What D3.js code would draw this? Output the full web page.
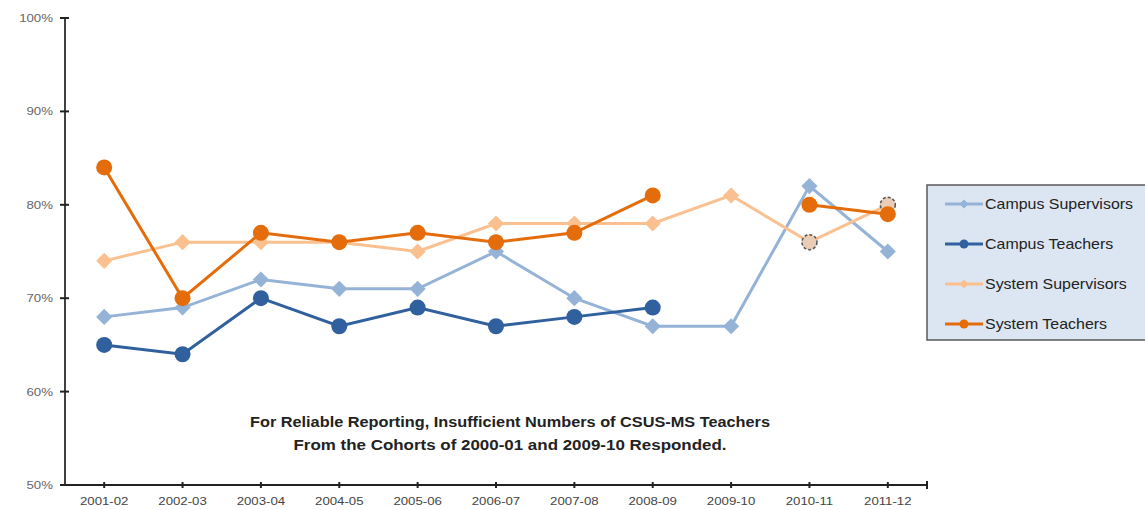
<!DOCTYPE html>
<html>
<head>
<meta charset="utf-8">
<script src="https://cdn.jsdelivr.net/npm/d3@7"></script>
<style>
  body { margin: 0; background: #fff; }
  text { font-family: "Liberation Sans", Arial, sans-serif; }
</style>
</head>
<body>
<div id="chart"></div>
<script>
const years = ["2001-02", "2002-03", "2003-04", "2004-05", "2005-06", "2006-07",
               "2007-08", "2008-09", "2009-10", "2010-11", "2011-12"];

const campusSupervisors = [68, 69, 72, 71, 71, 75, 70, 67, 67, 82, 75];
const campusTeachers    = [65, 64, 70, 67, 69, 67, 68, 69, null, null, null];
const systemSupervisors = [74, 76, 76, 76, 75, 78, 78, 78, 81, 76, 80];
const systemTeachers    = [84, 70, 77, 76, 77, 76, 77, 81, null, 80, 79];
// unlinked campus teacher markers drawn with dashed outline
const campusTeachersFlagged = [null, null, null, null, null, null, null, null, null, 76, 80];

const yTicks = [50, 60, 70, 80, 90, 100];
const seriesNames = ["Campus Supervisors", "Campus Teachers", "System Supervisors", "System Teachers"];

const noteLines = [
  "For Reliable Reporting, Insufficient Numbers of CSUS-MS Teachers",
  "From the Cohorts of 2000-01  and 2009-10  Responded."
];

const series = [
  { name: seriesNames[0], values: campusSupervisors, color: "#95b3d7", shape: "diamond" },
  { name: seriesNames[1], values: campusTeachers,    color: "#30609e", shape: "circle" },
  { name: seriesNames[2], values: systemSupervisors, color: "#fac090", shape: "diamond" },
  { name: seriesNames[3], values: systemTeachers,    color: "#e46c0a", shape: "circle" }
];

const width = 1145, height = 510;
const plotLeft = 65, plotRight = 927, plotTop = 18, plotBottom = 485;

const svg = d3.select("#chart").append("svg")
  .attr("width", width)
  .attr("height", height);

const x = d3.scalePoint()
  .domain(years)
  .range([plotLeft, plotRight])
  .padding(0.5);

const y = d3.scaleLinear()
  .domain([50, 100])
  .range([plotBottom, plotTop]);

// stretch text horizontally like the source image
function stretch(sel, k) {
  sel.each(function() {
    const w = this.getComputedTextLength();
    d3.select(this).attr("textLength", w * k).attr("lengthAdjust", "spacingAndGlyphs");
  });
}

// y axis
const yAxis = svg.append("g");
yAxis.append("line")
  .attr("x1", plotLeft).attr("x2", plotLeft)
  .attr("y1", plotTop).attr("y2", plotBottom)
  .attr("stroke", "#404040").attr("stroke-width", 2);
yAxis.selectAll("line.tick")
  .data(yTicks)
  .enter().append("line")
  .attr("class", "tick")
  .attr("x1", plotLeft - 5).attr("x2", plotLeft + 4)
  .attr("y1", d => y(d)).attr("y2", d => y(d))
  .attr("stroke", "#222").attr("stroke-width", 2);
yAxis.selectAll("text")
  .data(yTicks)
  .enter().append("text")
  .attr("x", plotLeft - 12)
  .attr("y", d => y(d) + 4)
  .attr("text-anchor", "end")
  .attr("font-size", 11.5)
  .attr("fill", "#666")
  .text(d => d + "%")
  .call(stretch, 1.15);

// x axis
const xAxis = svg.append("g");
xAxis.append("line")
  .attr("x1", plotLeft).attr("x2", plotRight)
  .attr("y1", plotBottom).attr("y2", plotBottom)
  .attr("stroke", "#222").attr("stroke-width", 2);
xAxis.selectAll("line.tick")
  .data(years)
  .enter().append("line")
  .attr("class", "tick")
  .attr("x1", d => x(d)).attr("x2", d => x(d))
  .attr("y1", plotBottom - 3).attr("y2", plotBottom + 3)
  .attr("stroke", "#222").attr("stroke-width", 2);
xAxis.append("line")
  .attr("x1", plotRight).attr("x2", plotRight)
  .attr("y1", plotBottom - 4).attr("y2", plotBottom + 4)
  .attr("stroke", "#222").attr("stroke-width", 2);
xAxis.selectAll("text")
  .data(years)
  .enter().append("text")
  .attr("x", d => x(d))
  .attr("y", plotBottom + 20)
  .attr("text-anchor", "middle")
  .attr("font-size", 11)
  .attr("fill", "#444")
  .text(d => d)
  .call(stretch, 1.2);

const diamond = d3.symbol().type(d3.symbolDiamond2);

function drawMarker(g, shape, cx, cy, color, size) {
  if (shape === "circle") {
    g.append("circle")
      .attr("cx", cx).attr("cy", cy).attr("r", size)
      .attr("fill", color);
  } else {
    g.append("path")
      .attr("d", diamond.size(size * size * 2.6)())
      .attr("transform", "translate(" + cx + "," + cy + ")")
      .attr("fill", color);
  }
}

const line = d3.line()
  .defined(d => d.v !== null)
  .x(d => x(d.year))
  .y(d => y(d.v));

series.forEach((s, si) => {
  const pts = years.map((yr, i) => ({ year: yr, v: s.values[i] }));
  const g = svg.append("g");
  g.append("path")
    .datum(pts)
    .attr("d", line)
    .attr("fill", "none")
    .attr("stroke", s.color)
    .attr("stroke-width", 3);
  pts.filter(d => d.v !== null).forEach(d => {
    drawMarker(g, s.shape, x(d.year), y(d.v), s.color, 8);
  });

  if (si === 2) {
    // flagged markers sit between supervisors and system teachers
    const fg = svg.append("g");
    years.forEach((yr, i) => {
      const v = campusTeachersFlagged[i];
      if (v === null) return;
      fg.append("circle")
        .attr("cx", x(yr)).attr("cy", y(v)).attr("r", 7.5)
        .attr("fill", "#e9cdb6")
        .attr("stroke", "#555")
        .attr("stroke-width", 1.5)
        .attr("stroke-dasharray", "3,2");
    });
  }
});

// note
svg.selectAll("text.note")
  .data(noteLines)
  .enter().append("text")
  .attr("class", "note")
  .attr("x", 510)
  .attr("y", (d, i) => 427 + i * 23)
  .attr("text-anchor", "middle")
  .attr("font-size", 14.5)
  .attr("font-weight", "bold")
  .attr("fill", "#222")
  .text(d => d)
  .each(function(d, i) {
    d3.select(this).attr("textLength", i === 0 ? 520 : 433).attr("lengthAdjust", "spacingAndGlyphs");
  });

// legend
const legend = svg.append("g");
legend.append("rect")
  .attr("x", 927).attr("y", 185)
  .attr("width", 240).attr("height", 155)
  .attr("fill", "#dce6f2")
  .attr("stroke", "#595959")
  .attr("stroke-width", 1.5);

const rowY = d3.scalePoint()
  .domain(seriesNames)
  .range([204, 324]);

series.forEach(s => {
  const ry = rowY(s.name);
  legend.append("line")
    .attr("x1", 945).attr("x2", 983)
    .attr("y1", ry).attr("y2", ry)
    .attr("stroke", s.color).attr("stroke-width", 3);
  drawMarker(legend, s.shape, 964, ry, s.color, 4.5);
  legend.append("text")
    .attr("x", 985)
    .attr("y", ry + 5)
    .attr("font-size", 14.5)
    .attr("fill", "#222")
    .text(s.name)
    .call(stretch, 1.1);
});
</script>
</body>
</html>
